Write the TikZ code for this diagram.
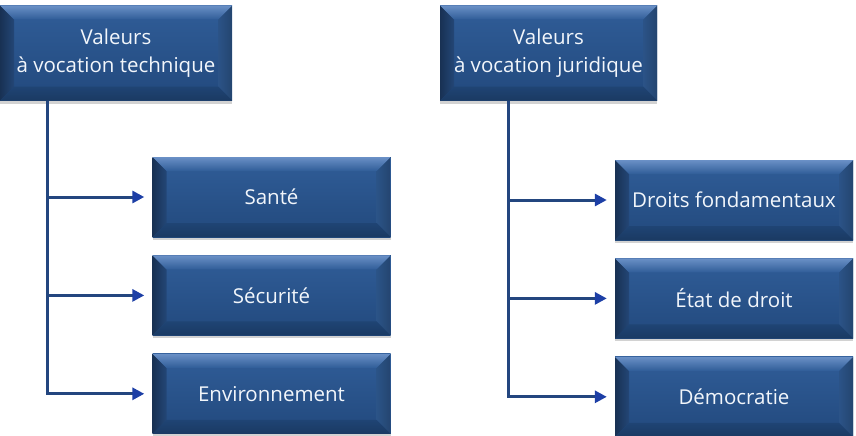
\documentclass[tikz,border=0pt]{standalone}
\usepackage{fontspec}
\setmainfont{Open Sans}
\usetikzlibrary{arrows.meta,positioning,shadows}
\definecolor{facetop}{HTML}{305D98}
\definecolor{facebottom}{HTML}{22497D}
\definecolor{bevtop}{HTML}{6A90C6}
\definecolor{bevleft}{HTML}{1E3D68}
\definecolor{bevright}{HTML}{2A5183}
\definecolor{bevbottom}{HTML}{1F4474}
\definecolor{linkblue}{HTML}{23467F}
\definecolor{tipblue}{HTML}{1D3FA6}
\definecolor{boxtext}{HTML}{F2F6FB}
\newcommand{\bev}{14pt}

\begin{document}
\begin{tikzpicture}[
  font=\fontsize{20.5}{28}\selectfont,
  bevel/.style={fill=facebottom, text=boxtext, align=center, inner sep=2pt,
    drop shadow={shadow xshift=0pt, shadow yshift=-3pt, opacity=.25, fill=black!70},
    path picture={
      \shade[top color=facetop, bottom color=facebottom]
        (path picture bounding box.north west) rectangle (path picture bounding box.south east);
      \shade[left color=bevleft!80!black, right color=bevleft!70!facetop]
        (path picture bounding box.north west)
        -- ([shift={(\bev,-\bev)}]path picture bounding box.north west)
        -- ([shift={(\bev,\bev)}]path picture bounding box.south west)
        -- (path picture bounding box.south west) -- cycle;
      \shade[right color=bevright!85!black, left color=bevright!80!facetop]
        (path picture bounding box.north east)
        -- ([shift={(-\bev,-\bev)}]path picture bounding box.north east)
        -- ([shift={(-\bev,\bev)}]path picture bounding box.south east)
        -- (path picture bounding box.south east) -- cycle;
      \shade[bottom color=bevbottom!85!black, top color=bevbottom]
        (path picture bounding box.south west)
        -- ([shift={(\bev,\bev)}]path picture bounding box.south west)
        -- ([shift={(-\bev,\bev)}]path picture bounding box.south east)
        -- (path picture bounding box.south east) -- cycle;
      \shade[top color=bevtop, bottom color=facetop]
        (path picture bounding box.north west)
        -- (path picture bounding box.north east)
        -- ([shift={(-\bev,-\bev)}]path picture bounding box.north east)
        -- ([shift={(\bev,-\bev)}]path picture bounding box.north west) -- cycle;
    }},
  headbox/.style={bevel, minimum height=95pt},
  leafbox/.style={bevel, minimum width=238pt, minimum height=80pt},
  link/.style={draw=linkblue, line width=3pt,
    -{Triangle[length=12pt, width=12pt, color=tipblue]}, shorten >=8pt}
]
  \useasboundingbox (0,0) rectangle (856pt,-436pt);

  \node[headbox, minimum width=232pt] (tech) at (116pt,-53pt) {Valeurs\\à vocation technique};
  \node[headbox, minimum width=217pt] (jur) at (548.5pt,-53pt) {Valeurs\\à vocation juridique};

  \node[leafbox] (sante) at (271.5pt,-197pt) {Santé};
  \node[leafbox, below=18pt of sante] (secu) {Sécurité};
  \node[leafbox, below=18pt of secu] (envi) {Environnement};

  \node[leafbox] (droits) at (734pt,-200pt) {Droits fondamentaux};
  \node[leafbox, below=18pt of droits] (etat) {État de droit};
  \node[leafbox, below=18pt of etat] (demo) {Démocratie};

  \draw[link] ([xshift=48pt]tech.south west) |- (sante);
  \draw[link] ([xshift=48pt]tech.south west) |- (secu);
  \draw[link] ([xshift=48pt]tech.south west) |- (envi);
  \draw[link] ([xshift=69pt]jur.south west) |- (droits);
  \draw[link] ([xshift=69pt]jur.south west) |- (etat);
  \draw[link] ([xshift=69pt]jur.south west) |- (demo);
\end{tikzpicture}
\end{document}
